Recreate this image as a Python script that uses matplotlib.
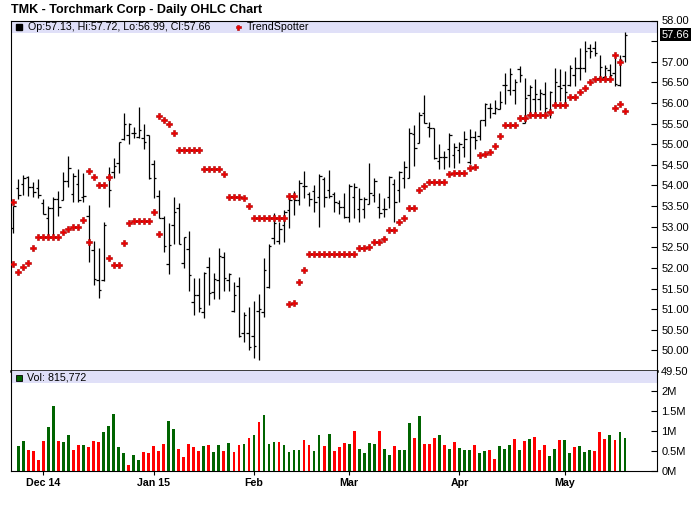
import numpy as np
import pandas as pd
import matplotlib
matplotlib.use('Agg')
import matplotlib.pyplot as plt
from matplotlib.patches import Rectangle

plt.rcParams['font.family'] = ['Liberation Sans', 'DejaVu Sans']

###############
    #DATA#
###############

start, end = '2014-11-20', '2015-05-19'
holidays = ['2014-11-27', '2014-12-25', '2015-01-01', '2015-01-19', '2015-02-16', '2015-04-03']
month_labels = ['Dec 14', 'Jan 15', 'Feb', 'Mar', 'Apr', 'May']

opens = [52.98, 53.93, 54.03, 54.20, 53.97, 53.93, 53.57, 53.22, 53.45, 53.67,
         53.65, 54.11, 53.79, 54.03, 53.73, 53.26, 52.44, 51.70, 51.71, 54.21,
         54.33, 54.54, 55.13, 55.22, 55.28, 55.18, 55.14, 55.22, 54.52, 53.75,
         53.21, 52.10, 53.04, 53.45, 52.11, 52.46, 51.18, 51.34, 50.94, 52.03,
         51.42, 51.71, 52.27, 51.71, 50.96, 51.55, 50.42, 50.42, 50.35, 50.95,
         50.94, 51.53, 52.72, 52.65, 53.04, 53.41, 53.73, 53.65, 53.99, 53.79,
         53.87, 53.73, 54.15, 53.89, 53.79, 53.58, 53.47, 53.24, 53.71, 53.43,
         53.43, 53.54, 53.77, 53.47, 53.43, 53.71, 54.03, 53.89, 54.17, 54.17,
         55.25, 55.02, 55.75, 55.41, 55.39, 54.60, 54.70, 54.88, 54.74, 54.86,
         54.94, 54.56, 55.17, 55.20, 55.59, 55.89, 55.75, 55.85, 56.44, 56.31,
         56.31, 56.82, 55.52, 56.19, 56.09, 56.09, 56.22, 55.79, 55.95, 56.41,
         56.44, 56.44, 56.68, 56.84, 56.84, 57.34, 57.33, 56.60, 56.64, 56.80,
         56.72, 56.44, 57.13]
highs = [53.49, 54.16, 54.25, 54.23, 54.09, 54.16, 53.67, 53.49, 53.71, 53.87,
         54.33, 54.71, 54.29, 54.40, 54.31, 53.53, 52.65, 52.48, 53.11, 54.45,
         54.66, 55.06, 55.75, 55.52, 55.41, 55.91, 55.49, 55.22, 54.62, 53.89,
         53.26, 53.10, 53.71, 53.57, 52.76, 52.90, 51.75, 51.75, 51.89, 52.27,
         51.88, 52.48, 52.38, 51.87, 51.67, 51.77, 50.94, 51.06, 51.20, 51.37,
         52.23, 52.58, 53.32, 53.11, 53.41, 53.73, 53.87, 54.13, 54.35, 53.85,
         54.01, 54.28, 54.20, 54.38, 53.85, 53.65, 53.82, 54.03, 54.07, 53.93,
         53.71, 54.54, 54.19, 53.81, 53.70, 54.23, 54.15, 54.35, 54.59, 55.39,
         55.47, 55.77, 56.19, 55.55, 55.40, 55.01, 54.84, 55.26, 55.02, 55.05,
         55.32, 55.37, 55.32, 55.59, 56.01, 56.00, 56.07, 56.29, 56.72, 56.84,
         56.57, 56.90, 56.60, 56.44, 56.57, 56.33, 56.50, 56.30, 56.84, 56.82,
         56.78, 56.92, 57.11, 57.33, 57.50, 57.43, 57.51, 57.16, 56.92, 56.95,
         57.08, 57.16, 57.72]
lows = [52.84, 53.67, 53.77, 53.75, 53.71, 53.69, 53.30, 52.76, 52.76, 53.27,
        53.65, 53.96, 53.61, 53.59, 53.61, 52.15, 51.59, 51.28, 51.69, 53.48,
        54.17, 54.30, 55.10, 55.00, 55.14, 55.14, 54.88, 54.15, 53.69, 53.20,
        52.38, 51.85, 52.58, 52.58, 51.99, 51.45, 50.86, 50.92, 50.78, 51.10,
        51.25, 51.24, 51.45, 51.45, 50.94, 50.33, 50.21, 50.01, 49.82, 49.77,
        50.82, 51.51, 52.58, 52.58, 52.64, 52.96, 53.28, 53.53, 53.69, 53.49,
        53.36, 52.99, 53.47, 53.69, 53.36, 53.31, 53.20, 53.12, 53.22, 53.12,
        53.22, 53.54, 53.61, 53.22, 53.24, 53.46, 53.12, 53.61, 53.95, 54.17,
        54.48, 55.02, 55.51, 55.18, 54.64, 54.39, 54.40, 54.44, 54.43, 54.55,
        54.70, 54.51, 54.88, 55.10, 55.45, 55.64, 55.73, 55.85, 55.97, 56.19,
        55.97, 56.50, 55.51, 55.69, 55.73, 55.83, 55.75, 55.63, 55.95, 56.04,
        55.93, 56.40, 56.41, 56.56, 56.76, 57.10, 57.15, 56.56, 56.58, 56.53,
        56.40, 56.42, 56.99]
closes = [53.49, 53.77, 54.17, 53.96, 53.84, 53.77, 53.30, 53.45, 53.67, 53.48,
          54.11, 54.42, 54.23, 53.65, 53.74, 52.62, 51.72, 51.47, 53.04, 53.89,
          54.47, 55.05, 55.50, 55.48, 55.28, 55.34, 55.06, 54.17, 54.17, 53.20,
          52.52, 52.56, 53.35, 52.58, 52.76, 51.83, 51.34, 51.02, 51.87, 51.40,
          51.73, 52.30, 51.75, 51.85, 51.34, 50.35, 50.86, 50.09, 50.10, 51.00,
          51.95, 52.53, 53.08, 52.94, 53.36, 53.65, 53.65, 54.05, 53.99, 53.66,
          53.61, 54.23, 53.71, 53.74, 53.61, 53.47, 53.24, 53.99, 53.97, 53.67,
          53.66, 53.81, 54.11, 53.33, 53.43, 54.20, 53.59, 54.33, 54.44, 55.26,
          54.90, 55.71, 55.51, 55.39, 54.66, 54.70, 54.70, 55.22, 54.93, 55.00,
          55.12, 55.17, 55.09, 55.59, 55.98, 55.87, 55.87, 56.02, 56.44, 56.70,
          56.50, 56.68, 56.11, 56.39, 56.22, 56.25, 55.87, 56.27, 56.52, 56.36,
          56.27, 56.84, 56.86, 56.84, 57.26, 57.26, 57.20, 56.88, 56.84, 56.68,
          56.45, 57.04, 57.66]

# volume in millions, from the second session on
volume = [0.625, 0.75, 0.525, 0.50, 0.275, 0.75, 1.10, 1.625, 0.75, 0.725,
          0.90, 0.525, 0.65, 0.65, 0.60, 0.75, 0.725, 0.975, 1.125, 1.425,
          0.60, 0.45, 0.15, 0.40, 0.275, 0.475, 0.45, 0.625, 0.50, 0.675,
          1.25, 1.05, 0.55, 0.35, 0.675, 0.60, 0.50, 0.625, 0.65, 0.475,
          0.65, 0.50, 0.70, 0.475, 0.65, 0.675, 0.825, 0.90, 1.225, 1.40,
          0.675, 0.725, 0.725, 0.65, 0.475, 0.525, 0.525, 0.775, 0.65, 0.50,
          0.90, 0.625, 0.925, 0.50, 0.60, 0.70, 0.675, 1.00, 0.55, 0.45,
          0.70, 0.675, 1.00, 0.55, 0.40, 0.625, 0.525, 0.525, 1.20, 0.825,
          1.375, 0.675, 0.675, 0.825, 0.90, 0.65, 0.55, 0.725, 0.575, 0.525,
          0.525, 0.65, 0.45, 0.50, 0.525, 0.30, 0.625, 0.55, 0.65, 0.80,
          0.525, 0.75, 0.80, 0.85, 0.525, 0.65, 0.375, 0.55, 0.775, 0.775,
          0.45, 0.60, 0.625, 0.475, 0.525, 0.50, 0.975, 0.80, 0.90, 0.775,
          0.975, 0.815772]
vol_updown = ("GGRRRRGGRG" "GRRGRRRGGG" "GGRGGRRRRR" "GGRRRRRGRG" "GRGRRGRGRG"
              "GGRGGGGRRG" "GRGRRRGRGG" "GGRGGRGGGR" "GRRRGRGRGG" "GRGGRRGGGR"
              "GRGRRRGGRG" "GRGGGRRRGR" "GG")

trend = [52.09, 51.89, 52.02, 52.11, 52.48, 52.75, 52.75, 52.75, 52.75, 52.75,
         52.86, 52.94, 52.99, 52.99, 53.16, 54.35, 54.20, 54.00, 54.00, 52.23,
         52.06, 52.06, 52.60, 53.08, 53.13, 53.13, 53.13, 53.13, 53.35, 55.68,
         55.58, 55.48, 55.26, 54.85, 54.85, 54.85, 54.85, 54.85, 54.39, 54.39,
         54.39, 54.39, 54.28, 53.71, 53.71, 53.71, 53.69, 53.49, 53.20, 53.20,
         53.20, 53.20, 53.20, 53.20, 53.20, 51.12, 51.14, 51.65, 51.95, 52.33,
         52.33, 52.33, 52.33, 52.33, 52.33, 52.33, 52.33, 52.33, 52.33, 52.48,
         52.48, 52.50, 52.62, 52.62, 52.69, 52.91, 52.91, 53.11, 53.20, 53.45,
         53.45, 53.88, 53.98, 54.08, 54.08, 54.08, 54.08, 54.27, 54.29, 54.29,
         54.29, 54.42, 54.44, 54.73, 54.76, 54.80, 54.95, 55.19, 55.46, 55.46,
         55.46, 55.63, 55.63, 55.70, 55.70, 55.70, 55.70, 55.77, 55.94, 55.94,
         55.94, 56.15, 56.15, 56.26, 56.36, 56.50, 56.58, 56.58, 56.58, 56.58,
         55.87, 55.97, 55.80]
# second TrendSpotter dot on days where the signal flips
trend_extra = {0: 53.59, 15: 52.62, 19: 54.20, 29: 52.82, 55: 53.74, 56: 53.74,
               120: 57.16, 121: 56.99}

dates = pd.bdate_range(start, end)
dates = dates[~dates.isin(pd.to_datetime(holidays))]
x = np.arange(len(dates))
month_start = x[1:][dates.month[1:] != dates.month[:-1]]

band = '#e0e0f8'
green = '#006400'
red = '#ff0000'
ts_style = dict(ls='none', marker='P', ms=4.2, mfc='#ee0000', mec='#aa0000', mew=0.4)

#################
    #FIGURE#
#################

fig = plt.figure(figsize=(7, 5.12), dpi=100)
ax = fig.add_axes([11/700, 1 - 371/512, 646/700, 350.5/512])
axv = fig.add_axes([11/700, 1 - 471/512, 646/700, 100/512], sharex=ax)

fig.text(11/700, 1 - 10/512, 'TMK - Torchmark Corp - Daily OHLC Chart',
         fontsize=9, fontweight='bold', va='center', ha='left')

# price panel
ax.add_patch(Rectangle((0, 0.963), 1, 0.037, transform=ax.transAxes,
                       fc=band, ec='none', zorder=0))
ax.vlines(x, lows, highs, color='black', lw=0.9, zorder=2)
ax.hlines(opens, x - 0.5, x, color='black', lw=0.9, zorder=2)
ax.hlines(closes, x, x + 0.5, color='black', lw=0.9, zorder=2)

ax.plot(x, trend, zorder=3, **ts_style)
ex = list(trend_extra.keys())
ax.plot(ex, [trend_extra[k] for k in ex], zorder=3, **ts_style)

ax.set_xlim(-0.46, 128.4)
ax.set_ylim(49.5, 58.0)
yt = np.arange(49.5, 58.01, 0.5)
ax.set_yticks(yt)
ax.set_yticklabels(['' if abs(v - closes[-1]) < 0.2 else f'{v:.2f}' for v in yt])
ax.yaxis.tick_right()
ax.tick_params(axis='y', direction='in', length=4, width=0.8, labelsize=8, pad=3)
ax.tick_params(axis='x', bottom=False, labelbottom=False)
for s in ['top', 'left', 'right']:
    ax.spines[s].set_linewidth(0.8)
ax.spines['bottom'].set_linewidth(1.8)

ax.annotate(f'{closes[-1]:.2f}', xy=(1, closes[-1]), xycoords=ax.get_yaxis_transform(),
            xytext=(3.2, 0), textcoords='offset points', color='white', fontsize=8,
            va='center', ha='left',
            bbox=dict(boxstyle='square,pad=0.12', fc='black', ec='none'))

ax.plot([0.0124], [0.9815], transform=ax.transAxes, marker='s', ms=4.5,
        color='black', ls='none', clip_on=False)
ax.text(0.0263, 0.9815,
        f'Op:{opens[-1]:.2f}, Hi:{highs[-1]:.2f}, Lo:{lows[-1]:.2f}, Cl:{closes[-1]:.2f}',
        transform=ax.transAxes, fontsize=7.7, va='center', ha='left')
ax.plot([0.3514], [0.9815], transform=ax.transAxes, **dict(ts_style, ms=3.6))
ax.text(0.3653, 0.9815, 'TrendSpotter', transform=ax.transAxes, fontsize=7.7,
        va='center', ha='left')

# volume panel
axv.add_patch(Rectangle((0, 0.88), 1, 0.12, transform=axv.transAxes,
                        fc=band, ec='none', zorder=0))
vx = x[1:]
vcol = [green if c == 'G' else red for c in vol_updown]
axv.bar(vx, volume, width=0.55, color=vcol, zorder=2)
axv.set_ylim(0, 2.5)
axv.set_yticks([0, 0.5, 1, 1.5, 2])
axv.set_yticklabels(['0M', '0.5M', '1M', '1.5M', '2M'])
axv.yaxis.tick_right()
axv.tick_params(axis='y', direction='in', length=4, width=0.8, labelsize=8, pad=3)
axv.set_xticks(month_start)
axv.set_xticklabels(month_labels, fontweight='bold')
axv.tick_params(axis='x', direction='out', length=3, width=0.8, labelsize=7.7, pad=2)
axv.spines['top'].set_visible(False)
for s in ['left', 'right', 'bottom']:
    axv.spines[s].set_linewidth(0.8)

axv.plot([0.0124], [0.935], transform=axv.transAxes, marker='s', ms=4.5,
         mfc=green, mec='black', mew=0.6, ls='none')
axv.text(0.0247, 0.935, f'Vol: {volume[-1] * 1e6:,.0f}', transform=axv.transAxes,
         fontsize=7.7, va='center', ha='left')

fig.savefig('out.png', dpi=100)
